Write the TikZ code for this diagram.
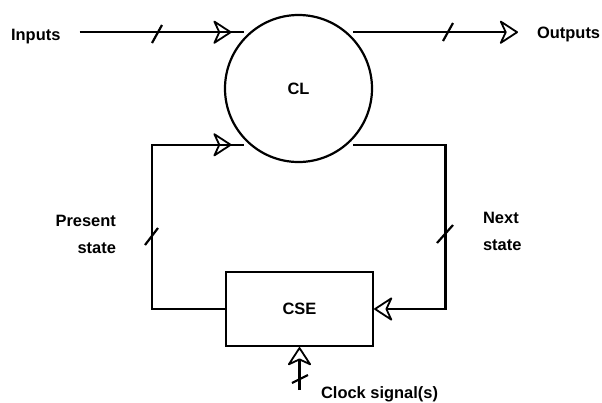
\documentclass[tikz,border=0pt]{standalone}
\usepackage{fontspec}
\setmainfont{Liberation Sans}
\usetikzlibrary{arrows.meta,decorations.markings}

\begin{document}
\begin{tikzpicture}[x=1bp,y=-1bp,line width=2.2bp,
    >={Stealth[open,length=20bp,width=26bp,inset=6bp,line width=1.8bp,round]},
    lbl/.style={font=\fontsize{16.5}{27}\selectfont\bfseries,inner sep=0pt},
    midarrow/.style={postaction={decorate},
      decoration={markings,mark=at position -12bp with {\arrow{>}}}}]
  \useasboundingbox (0,0) rectangle (602,402);

  % Combinational logic and state elements
  \node[draw,circle,minimum size=147bp,lbl] (cl) at (298.5,88.5) {CL};
  \node[draw,minimum width=147bp,minimum height=74bp,lbl] (cse) at (299.5,309) {CSE};

  % Labels
  \node[lbl,anchor=base west] (inputs) at (10,40) {Inputs};
  \node[lbl,anchor=base west] (outputs) at (536,38) {Outputs};
  \node[lbl,anchor=north east,align=right] (present) at (117,214) {Present\\state};
  \node[lbl,anchor=north west,align=left] (next) at (482,211) {Next\\state};
  \node[lbl,anchor=base west] (clock) at (320,398) {Clock signal(s)};
  \coordinate (clk) at (299.5,390);

  % Signal lines
  \draw[midarrow] ([xshift=18bp]inputs.east |- cl.131) -- ([xshift=-6bp]cl.131);
  \draw[->,shorten >=18bp] ([xshift=6bp]cl.49) -- (outputs.west |- cl.49);
  \draw[midarrow] (cse.west) -- ++(-73,0) |- ([xshift=-6bp]cl.229);
  \draw[->] ([xshift=6bp]cl.311) -- ++(92,0) |- (cse.east);
  \draw[->] (clk) -- (cse.south);

  % Bus marks
  \draw (152,43) -- (162,25);
  \draw (443,41) -- (453,23);
  \draw (145,245) -- (158,228);
  \draw (437,243) -- (453,225);
  \draw (292,383) -- (308,375);
\end{tikzpicture}
\end{document}
